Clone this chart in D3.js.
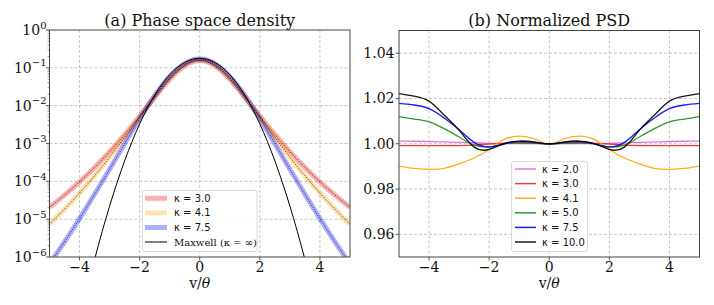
<!DOCTYPE html>
<html><head><meta charset="utf-8">
<script src="https://cdn.jsdelivr.net/npm/d3@7"></script>
<style>
html,body{margin:0;padding:0;background:#fff;}
svg{display:block;}
</style></head>
<body>
<svg id="chart" width="714" height="305"></svg>
<script>
// ---------- data ----------
const vGrid = [-5,-4.5,-4,-3.5,-3,-2.5,-2,-1.5,-1,-0.5,0,0.5,1,1.5,2,2.5,3,3.5,4,4.5,5];

// (a) phase space density
const densKappa3  = [2.056e-5,4.324e-5,9.696e-5,2.336e-4,6.094e-4,1.726e-3,5.263e-3,0.016633,0.04936,0.11326,0.156,0.11326,0.04936,0.016633,5.263e-3,1.726e-3,6.094e-4,2.336e-4,9.696e-5,4.324e-5,2.056e-5];
const densKappa41 = [7.42e-6,1.841e-5,4.895e-5,1.403e-4,4.345e-4,1.4453e-3,5.046e-3,0.017464,0.05341,0.1202,0.16256,0.1202,0.05341,0.017464,5.046e-3,1.4453e-3,4.345e-4,1.403e-4,4.895e-5,1.841e-5,7.42e-6];
const densKappa75 = [6.585e-7,2.522e-6,1.0366e-5,4.539e-5,2.0937e-4,9.864e-4,4.505e-3,0.018327,0.058815,0.12898,0.17043,0.12898,0.058815,0.018327,4.505e-3,9.864e-4,2.0937e-4,4.539e-5,1.0366e-5,2.522e-6,6.585e-7];
const densMaxwell = [2.49e-12,2.88e-10,2.02e-8,8.59e-7,2.216e-5,3.466e-4,3.29e-3,0.01893,0.06607,0.1399,0.1796,0.1399,0.06607,0.01893,3.29e-3,3.466e-4,2.216e-5,8.59e-7,2.02e-8,2.88e-10,2.49e-12];
const densLabels = ["κ = 3.0","κ = 4.1","κ = 7.5","Maxwell (κ = ∞)"];
const densColors = ["red","orange","blue","black"];

// (b) normalized PSD
const psdK2  = [1.0012,1.0011,1.0010,1.0008,1.0006,1.0004,1.0002,1.0001,1.0001,1.0001,1.0000,1.0001,1.0001,1.0001,1.0002,1.0004,1.0006,1.0008,1.0010,1.0011,1.0012];
const psdK3  = [0.9992,0.9992,0.9992,0.9992,0.9992,0.9994,0.9999,1.0002,1.0003,1.0002,1.0000,1.0002,1.0003,1.0002,0.9999,0.9994,0.9992,0.9992,0.9992,0.9992,0.9992];
const psdK41 = [0.9901,0.9891,0.9887,0.9891,0.9911,0.9937,0.9975,1.0019,1.0034,1.0022,1.0000,1.0022,1.0034,1.0019,0.9975,0.9937,0.9911,0.9891,0.9887,0.9891,0.9901];
const psdK5  = [1.0120,1.0109,1.0097,1.0067,1.0030,0.9994,0.9986,0.9999,1.0005,1.0003,1.0000,1.0003,1.0005,0.9999,0.9986,0.9994,1.0030,1.0067,1.0097,1.0109,1.0120];
const psdK75 = [1.0178,1.0171,1.0155,1.0114,1.0062,1.0006,0.9986,1.0000,1.0009,1.0006,1.0000,1.0006,1.0009,1.0000,0.9986,1.0006,1.0062,1.0114,1.0155,1.0171,1.0178];
const psdK10 = [1.0221,1.0210,1.0188,1.0127,1.0060,0.9985,0.9975,1.0001,1.0012,1.0008,1.0000,1.0008,1.0012,1.0001,0.9975,0.9985,1.0060,1.0127,1.0188,1.0210,1.0221];
const psdLabels = ["κ = 2.0","κ = 3.0","κ = 4.1","κ = 5.0","κ = 7.5","κ = 10.0"];
const psdColors = ["#e066e0","#ff2020","#ffa500","#1a8c1a","#0000ff","#000000"];

const xTicks = [-4,-2,0,2,4];
const yTicksA = [1e-6,1e-5,1e-4,1e-3,1e-2,1e-1,1];
const yExpA = ["−6","−5","−4","−3","−2","−1","0"];
const yTicksB = [0.96,0.98,1.00,1.02,1.04];

// ---------- drawing ----------
const svg = d3.select("#chart");
const SERIF = "'DejaVu Serif', serif";
const SANS = "'DejaVu Sans', sans-serif";
const defs = svg.append("defs");

function panel(id, x0, x1, y0, y1, title) {
  const x = d3.scaleLinear().domain([-5,5]).range([x0,x1]);
  const g = svg.append("g");
  defs.append("clipPath").attr("id", id).append("rect")
    .attr("x", x0).attr("y", y0).attr("width", x1-x0).attr("height", y1-y0);
  g.append("text").attr("x",(x0+x1)/2).attr("y",26).attr("text-anchor","middle")
    .attr("font-family",SERIF).attr("font-size",16).attr("fill","#111").text(title);
  xTicks.forEach(t=>{
    g.append("line").attr("x1",x(t)).attr("x2",x(t)).attr("y1",y0).attr("y2",y1)
      .attr("stroke","#b8b8b8").attr("stroke-width",0.8).attr("stroke-dasharray","3,2");
    g.append("line").attr("x1",x(t)).attr("x2",x(t)).attr("y1",y1).attr("y2",y1+3.5)
      .attr("stroke","#333").attr("stroke-width",0.8);
    g.append("text").attr("x",x(t)).attr("y",y1+14.5).attr("text-anchor","middle")
      .attr("font-family",SERIF).attr("font-size",14).attr("fill","#111")
      .text(t<0 ? "−"+Math.abs(t) : String(t));
  });
  g.append("text").attr("x",(x0+x1)/2).attr("y",y1+31).attr("text-anchor","middle")
    .attr("font-family",SERIF).attr("font-size",14).attr("fill","#111")
    .html('v/<tspan font-style="italic">θ</tspan>');
  return {x, g};
}

// ---- panel (a)
const yA = d3.scaleLog().domain([1e-6,1]).range([257,30]);
const A = panel("clipA", 49.5, 350, 30, 257, "(a) Phase space density");
yTicksA.forEach((t,i)=>{
  if (t<1 && t>1e-6) A.g.append("line").attr("x1",49.5).attr("x2",350).attr("y1",yA(t)).attr("y2",yA(t))
    .attr("stroke","#b8b8b8").attr("stroke-width",0.8).attr("stroke-dasharray","3,2");
  A.g.append("line").attr("x1",46).attr("x2",49.5).attr("y1",yA(t)).attr("y2",yA(t))
    .attr("stroke","#333").attr("stroke-width",0.8);
  const tx = A.g.append("text").attr("x",46.5).attr("y",yA(t)+5).attr("text-anchor","end")
    .attr("font-family",SERIF).attr("font-size",14).attr("fill","#111");
  tx.append("tspan").text("10");
  tx.append("tspan").attr("dy",-6.5).attr("font-size",10).text(yExpA[i]);
});
for (let k=-6;k<0;k++) for (let m=2;m<10;m++){
  const v = m*Math.pow(10,k);
  A.g.append("line").attr("x1",47.5).attr("x2",49.5).attr("y1",yA(v)).attr("y2",yA(v))
    .attr("stroke","#555").attr("stroke-width",0.6);
}
const lineA = d3.line().x((d,i)=>A.x(vGrid[i])).y(d=>yA(d)).curve(d3.curveNatural);
const cA = A.g.append("g").attr("clip-path","url(#clipA)");
[densKappa3,densKappa41,densKappa75].forEach((s,i)=>{
  cA.append("path").attr("d",lineA(s)).attr("fill","none").attr("stroke",densColors[i])
    .attr("stroke-opacity",0.32).attr("stroke-width",5);
});
[densKappa3,densKappa41,densKappa75].forEach((s,i)=>{
  cA.append("path").attr("d",lineA(s)).attr("fill","none").attr("stroke","#000")
    .attr("stroke-opacity",0.75).attr("stroke-width",0.9).attr("stroke-dasharray","1.2,1.2");
});
cA.append("path").attr("d",lineA(densMaxwell)).attr("fill","none").attr("stroke","#000").attr("stroke-width",1);
A.g.append("rect").attr("x",49.5).attr("y",30).attr("width",300.5).attr("height",227)
  .attr("fill","none").attr("stroke","#444").attr("stroke-width",1);

const legA = A.g.append("g");
legA.append("rect").attr("x",142.5).attr("y",190.5).attr("width",114.5).attr("height",61).attr("rx",2.5)
  .attr("fill","#fff").attr("fill-opacity",0.85).attr("stroke","#d0d0d0").attr("stroke-width",0.8);
const legAy = [198.3,212.8,227.5,242];
densLabels.forEach((lab,i)=>{
  const ln = legA.append("line").attr("x1",145).attr("x2",167).attr("y1",legAy[i]).attr("y2",legAy[i]).attr("stroke",densColors[i]);
  if (i<3) ln.attr("stroke-opacity",0.32).attr("stroke-width",5); else ln.attr("stroke-width",1);
  legA.append("text").attr("x",174).attr("y",legAy[i]+3.5)
    .attr("font-family", i<3 ? SANS : SERIF).attr("font-size",10).attr("fill","#111").text(lab);
});

// ---- panel (b)
const yB = d3.scaleLinear().domain([0.95,1.05]).range([257,30.5]);
const B = panel("clipB", 399, 699.5, 30.5, 257, "(b) Normalized PSD");
yTicksB.forEach(t=>{
  B.g.append("line").attr("x1",399).attr("x2",699.5).attr("y1",yB(t)).attr("y2",yB(t))
    .attr("stroke","#b8b8b8").attr("stroke-width",0.8).attr("stroke-dasharray","3,2");
  B.g.append("line").attr("x1",395.5).attr("x2",399).attr("y1",yB(t)).attr("y2",yB(t))
    .attr("stroke","#333").attr("stroke-width",0.8);
  B.g.append("text").attr("x",394.5).attr("y",yB(t)+5).attr("text-anchor","end")
    .attr("font-family",SERIF).attr("font-size",14).attr("fill","#111").text(t.toFixed(2));
});
const lineB = d3.line().x((d,i)=>B.x(vGrid[i])).y(d=>yB(d)).curve(d3.curveNatural);
const cB = B.g.append("g").attr("clip-path","url(#clipB)");
[psdK2,psdK3,psdK41,psdK5,psdK75,psdK10].forEach((s,i)=>{
  cB.append("path").attr("d",lineB(s)).attr("fill","none").attr("stroke",psdColors[i])
    .attr("stroke-opacity",0.9).attr("stroke-width",1.3);
});
B.g.append("rect").attr("x",399).attr("y",30.5).attr("width",300.5).attr("height",226.5)
  .attr("fill","none").attr("stroke","#444").attr("stroke-width",1);

const legB = B.g.append("g");
legB.append("rect").attr("x",511.5).attr("y",161.5).attr("width",76).attr("height",90).attr("rx",2.5)
  .attr("fill","#fff").attr("fill-opacity",0.85).attr("stroke","#d0d0d0").attr("stroke-width",0.8);
const legBy = [169,183.6,198.2,212.8,227.4,242];
psdLabels.forEach((lab,i)=>{
  legB.append("line").attr("x1",515).attr("x2",536).attr("y1",legBy[i]).attr("y2",legBy[i])
    .attr("stroke",psdColors[i]).attr("stroke-opacity",0.9).attr("stroke-width",1.5);
  legB.append("text").attr("x",542).attr("y",legBy[i]+3.5)
    .attr("font-family",SANS).attr("font-size",10).attr("fill","#111").text(lab);
});
</script>
</body></html>
